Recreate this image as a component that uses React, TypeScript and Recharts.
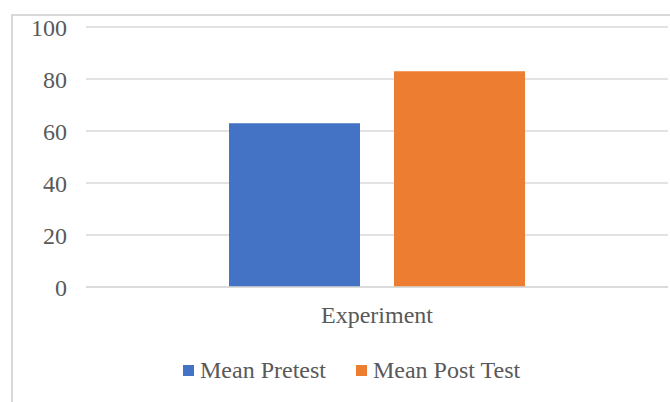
import { Bar, BarChart, CartesianGrid, Legend, XAxis, YAxis } from "recharts";

const categories = ["Experiment"];
const meanPretest = [63];
const meanPostTest = [83];
const yTicks = [0, 20, 40, 60, 80, 100];

const seriesNames = ["Mean Pretest", "Mean Post Test"];
const seriesColors = ["#4472C4", "#ED7D31"];

const data = categories.map((name, i) => ({
  name,
  pre: meanPretest[i],
  post: meanPostTest[i],
}));

const font = "'Liberation Serif', 'Times New Roman', serif";
const textColor = "#595959";
const gridColor = "#d9d9d9";

function LegendContent() {
  return (
    <div
      style={{
        display: "flex",
        alignItems: "center",
        height: 30,
        fontFamily: font,
        fontSize: 24,
        color: textColor,
        whiteSpace: "nowrap",
      }}
    >
      {seriesNames.map((name, i) => (
        <div
          key={name}
          style={{
            display: "flex",
            alignItems: "center",
            marginRight: i === 0 ? 30 : 0,
          }}
        >
          <span
            style={{
              display: "inline-block",
              width: 11,
              height: 11,
              background: seriesColors[i],
              marginRight: 6,
            }}
          />
          <span>{name}</span>
        </div>
      ))}
    </div>
  );
}

export default function App() {
  return (
    <div
      style={{
        position: "absolute",
        left: 0,
        top: 0,
        width: 670,
        height: 402,
        background: "#fff",
        overflow: "hidden",
      }}
    >
      <div
        style={{
          position: "absolute",
          left: 11,
          top: 14,
          width: 700,
          height: 420,
          borderLeft: `2px solid ${gridColor}`,
          borderTop: `2px solid ${gridColor}`,
        }}
      />
      <BarChart
        width={670}
        height={402}
        data={data}
        margin={{ top: 27, right: 2, bottom: 0, left: 0 }}
        barGap={34}
      >
        <CartesianGrid vertical={false} stroke={gridColor} strokeWidth={1.5} />
        <XAxis
          dataKey="name"
          height={85}
          tickLine={false}
          axisLine={{ stroke: gridColor, strokeWidth: 1.5 }}
          tickMargin={13}
          tick={{ fill: textColor, fontSize: 24, fontFamily: font }}
        />
        <YAxis
          width={86}
          domain={[0, 100]}
          ticks={yTicks}
          tickLine={false}
          axisLine={false}
          tickMargin={13}
          tick={{ fill: textColor, fontSize: 24, fontFamily: font }}
        />
        <Legend
          verticalAlign="bottom"
          content={<LegendContent />}
          wrapperStyle={{ left: 183, top: 355, width: "auto" }}
        />
        <Bar
          dataKey="pre"
          name={seriesNames[0]}
          fill={seriesColors[0]}
          barSize={131}
          isAnimationActive={false}
        />
        <Bar
          dataKey="post"
          name={seriesNames[1]}
          fill={seriesColors[1]}
          barSize={131}
          isAnimationActive={false}
        />
      </BarChart>
    </div>
  );
}
